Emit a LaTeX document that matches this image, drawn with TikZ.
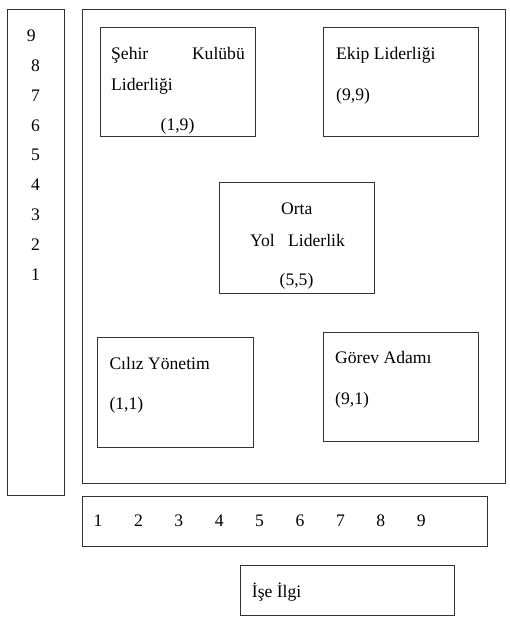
\documentclass[tikz,border=0pt]{standalone}
\usepackage{fontspec}
\setmainfont{Liberation Serif}
\usepackage{tikz}
\usetikzlibrary{calc}

\tikzset{
  box/.style={draw=black!80, line width=1pt},
  lbl/.style={anchor=base west, inner sep=0pt},
  mid/.style={anchor=base, inner sep=0pt}
}

\begin{document}
\begin{tikzpicture}[x=1pt, y=-1pt, font=\fontsize{17.6}{21}\selectfont]
\useasboundingbox (0,0) rectangle (509,617);

\draw[box] (7,10) rectangle (64,495);
\draw[box] (82,10) rectangle (505,483);
\draw[box] (100,28) rectangle (255,137);
\draw[box] (323,28) rectangle (478,137);
\draw[box] (219,183) rectangle (374,293);
\draw[box] (97,337) rectangle (253,447);
\draw[box] (323,332) rectangle (478,441);
\draw[box] (82,496) rectangle (487,546);
\draw[box] (240,565) rectangle (454,615);

\node[mid] (y9) at (31.2,41.7) {9};
\foreach \n in {8,...,1}
  \node[mid] (y\n) at ({35.5},{41.7+29.8*(9-\n)}) {\n};

\foreach \n in {1,...,9}
  \node[mid] (x\n) at ({98+40.4*(\n-1)},526.7) {\n};

\node[lbl] (sehir) at (111,60) {Şehir};
\node[anchor=base east, inner sep=0pt] (kulubu) at (245,60) {Kulübü};
\node[lbl] (sehirb) at (111,90.5) {Liderliği};
\node[mid] (sehirc) at (177.5,131) {(1,9)};

\node[lbl] (ekip) at (336,60) {Ekip Liderliği};
\node[lbl] (ekipc) at (336,100.7) {(9,9)};

\node[mid] (orta) at (296.7,215) {Orta};
\node[lbl] (yol) at (250,246.7) {Yol};
\node[lbl] (yolb) at (288,246.7) {Liderlik};
\node[mid] (ortac) at (296.5,285.7) {(5,5)};

\node[lbl] (ciliz) at (109.3,369.3) {Cılız Yönetim};
\node[lbl] (cilizc) at (109.3,409) {(1,1)};

\node[lbl] (gorev) at (335,363.3) {Görev Adamı};
\node[lbl] (gorevc) at (335,404) {(9,1)};

\node[lbl] (ise) at (251.7,597.5) {İşe İlgi};
\end{tikzpicture}
\end{document}
